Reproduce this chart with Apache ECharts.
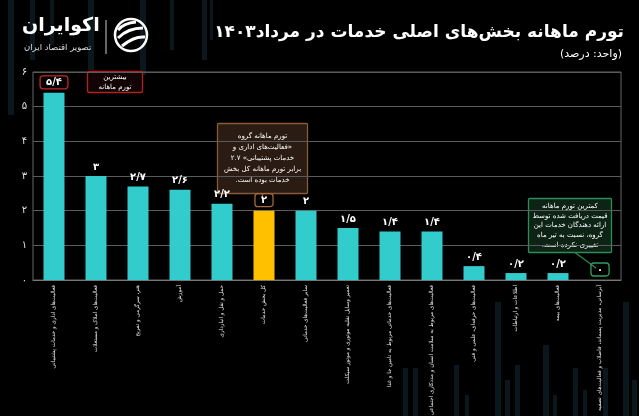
<!DOCTYPE html>
<html dir="rtl"><head><meta charset="utf-8">
<script src="https://cdn.jsdelivr.net/npm/echarts@6/dist/echarts.min.js"></script>
<style>html,body{margin:0;padding:0;background:#000;}#c{width:639px;height:416px;direction:rtl;}</style>
</head><body><div id="c" dir="rtl"></div>
<script>
const categories = [
  'فعالیت‌های اداری و خدمات پشتیبانی',
  'فعالیت‌های املاک و مستغلات',
  'هنر، سرگرمی و تفریح',
  'آموزش',
  'حمل و نقل و انبارداری',
  'کل بخش خدمات',
  'سایر فعالیت‌های خدماتی',
  'تعمیر وسایل نقلیه موتوری و موتور سیکلت',
  'فعالیت‌های خدماتی مربوط به تامین جا و غذا',
  'فعالیت‌های مربوط به سلامت انسان و مددکاری اجتماعی',
  'فعالیت‌های حرفه‌ای، علمی و فنی',
  'اطلاعات و ارتباطات',
  'فعالیت‌های بیمه',
  'آبرسانی، مدیریت پسماند، فاضلاب و فعالیت‌های تصفیه'
];
const values = [5.4, 3, 2.7, 2.6, 2.2, 2, 2, 1.5, 1.4, 1.4, 0.4, 0.2, 0.2, 0];
const totalIndex = 5;
const maxIndex = 0;
const minIndex = 13;
const yMin = 0, yMax = 6, yStep = 1;

const FONT = 'DejaVu Sans';
function fa(v) {
  return String(v).replace(/\./g, '/').replace(/[0-9]/g, d => '۰۱۲۳۴۵۶۷۸۹'[+d]);
}

const boxColors = {};
boxColors[maxIndex] = '#c4262a';
boxColors[totalIndex] = '#a8653f';
boxColors[minIndex] = '#2fa060';

const seriesData = values.map((v, i) => {
  const item = { value: v, itemStyle: { color: i === totalIndex ? '#ffc000' : '#33cccc' } };
  if (boxColors[i]) {
    item.label = { borderColor: boxColors[i], borderWidth: 1.3, borderRadius: 3, padding: [2, 6, 1, 6] };
  }
  return item;
});

// decorative faint background columns
const deco = [
  [8, 0, 6, 115], [30, 0, 5, 60], [50, 0, 4, 45], [88, 0, 6, 70], [140, 0, 6, 75], [170, 0, 4, 50],
  [202, 0, 5, 60], [210, 0, 3, 40],
  [403, 368, 5, 48], [413, 368, 5, 48], [454, 365, 5, 51], [465, 395, 4, 21], [495, 302, 6, 114],
  [505, 380, 5, 36], [515, 365, 5, 51], [543, 345, 6, 71], [553, 395, 4, 21], [573, 368, 5, 48],
  [583, 390, 4, 26], [603, 368, 5, 48], [623, 302, 6, 114], [632, 380, 5, 36]
].map(r => ({ type: 'rect', z: -10, silent: true, shape: { x: r[0], y: r[1], width: r[2], height: r[3] }, style: { fill: '#0a171d' } }));

const chart = echarts.init(document.getElementById('c'), null, { renderer: 'canvas' });
chart.setOption({
  backgroundColor: '#000',
  animation: false,
  textStyle: { fontFamily: FONT },
  title: [
    { text: 'تورم ماهانه بخش‌های اصلی خدمات در مرداد۱۴۰۳', right: 10, top: 19,
      textStyle: { color: '#fff', fontSize: 17, fontWeight: 'bold', fontFamily: FONT } },
    { text: '(واحد: درصد)', right: 12, top: 44,
      textStyle: { color: '#fff', fontSize: 11, fontWeight: 'normal', fontFamily: FONT } }
  ],
  grid: { left: 33, right: 18, top: 72, bottom: 136, show: true, borderColor: '#666', borderWidth: 1,
    containLabel: false, outerBoundsMode: 'none' },
  xAxis: {
    type: 'category', data: categories,
    axisTick: { show: false },
    axisLine: { lineStyle: { color: '#777' } },
    axisLabel: { interval: 0, rotate: 90, fontSize: 5.6, color: '#e8e8e8', margin: 5, fontFamily: FONT }
  },
  yAxis: {
    type: 'value', min: yMin, max: yMax, interval: yStep,
    axisLine: { show: false }, axisTick: { show: false },
    splitLine: { lineStyle: { color: '#5a5a5a', width: 1 } },
    axisLabel: { color: '#e0e0e0', fontSize: 10, margin: 6, formatter: v => fa(v), fontFamily: FONT }
  },
  series: [{
    type: 'bar', data: seriesData, barWidth: 21,
    label: { show: true, position: 'top', distance: 4, color: '#fff', fontSize: 10, fontWeight: 'bold',
      fontFamily: FONT, formatter: p => fa(p.value) }
  }],
  graphic: deco.concat([
    // logo text
    { type: 'text', left: 22, top: 17, style: { text: 'اکوایران', fill: '#fff', font: 'bold 19px "DejaVu Sans"' } },
    { type: 'text', left: 24, top: 43, style: { text: 'تصویر اقتصاد ایران', fill: '#ddd', font: '8.5px "DejaVu Sans"' } },
    { type: 'line', shape: { x1: 106, y1: 20, x2: 106, y2: 54 }, style: { stroke: '#ccc', lineWidth: 1 } },
    // logo icon
    { type: 'group', children: [
      { type: 'circle', shape: { cx: 131, cy: 35, r: 16 }, style: { fill: 'none', stroke: '#fff', lineWidth: 2.5 } },
      { type: 'bezierCurve', shape: { x1: 118, y1: 30, x2: 136, y2: 22, cpx1: 124, cpy1: 23 }, style: { stroke: '#fff', lineWidth: 3, fill: 'none' } },
      { type: 'bezierCurve', shape: { x1: 118, y1: 38, x2: 143, y2: 28, cpx1: 128, cpy1: 28 }, style: { stroke: '#fff', lineWidth: 3, fill: 'none' } },
      { type: 'bezierCurve', shape: { x1: 122, y1: 46, x2: 145, y2: 37, cpx1: 134, cpy1: 36 }, style: { stroke: '#fff', lineWidth: 3, fill: 'none' } }
    ] },
    // max callout
    { type: 'rect', shape: { x: 87.5, y: 71.5, width: 55, height: 21, r: 2 }, style: { fill: '#120404', stroke: '#b41f22', lineWidth: 1.3 } },
    { type: 'text', x: 115, y: 82, style: { text: 'بیشترین\nتورم ماهانه', fill: '#fff', font: '7px "DejaVu Sans"', align: 'center', verticalAlign: 'middle', lineHeight: 9.5 } },
    // total callout
    { type: 'rect', shape: { x: 217.5, y: 123.5, width: 90, height: 70, r: 1 }, style: { fill: '#2a1c12', stroke: '#8a5a3a', lineWidth: 1.3 } },
    { type: 'text', x: 262.5, y: 158.5, style: { text: 'تورم ماهانه گروه\n«فعالیت‌های اداری و\nخدمات پشتیبانی» ۲.۷\nبرابر تورم ماهانه کل بخش\nخدمات بوده است.', fill: '#fff', font: '7px "DejaVu Sans"', align: 'center', verticalAlign: 'middle', lineHeight: 11 } },
    { type: 'line', shape: { x1: 262.5, y1: 193.5, x2: 262.5, y2: 199 }, style: { stroke: '#a8653f', lineWidth: 1.3 } },
    // min callout
    { type: 'rect', shape: { x: 528.5, y: 198.5, width: 83, height: 54, r: 1 }, style: { fill: '#0c2316', stroke: '#2e8b57', lineWidth: 1.3 } },
    { type: 'text', x: 570, y: 225.5, style: { text: 'کمترین تورم ماهانه\nقیمت دریافت شده توسط\nارائه دهندگان خدمات این\nگروه، نسبت به تیر ماه\nتغییری نکرده است.', fill: '#fff', font: '7px "DejaVu Sans"', align: 'center', verticalAlign: 'middle', lineHeight: 9.8 } },
    { type: 'line', shape: { x1: 575, y1: 252.5, x2: 596, y2: 268 }, style: { stroke: '#2e8b57', lineWidth: 1.2 } }
  ])
});
</script></body></html>
